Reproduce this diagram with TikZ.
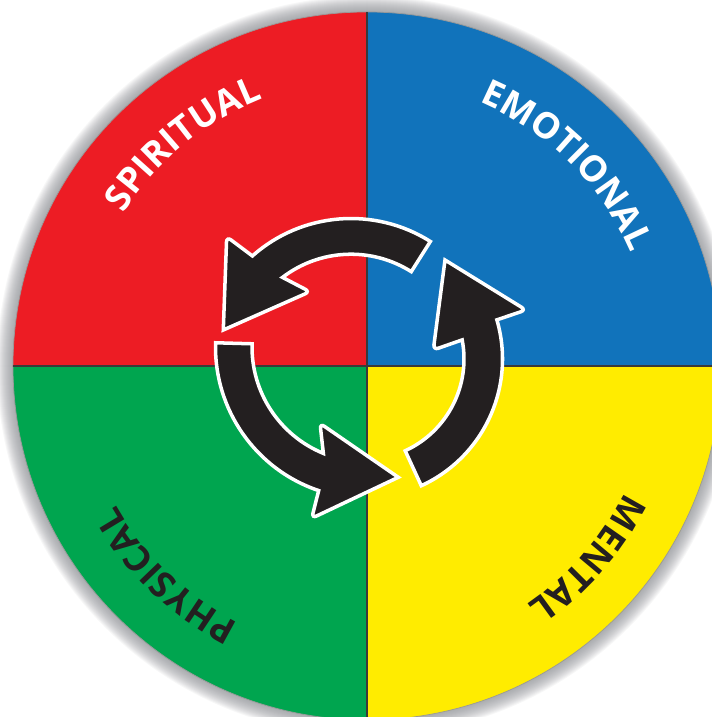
\documentclass[tikz,border=0pt]{standalone}
\usepackage{fontspec}
\setmainfont{Open Sans}[BoldFont={Open Sans Bold}]
\usetikzlibrary{decorations.text}

\definecolor{spiritred}{HTML}{ED1C24}
\definecolor{emotionblue}{HTML}{1173BB}
\definecolor{physicalgreen}{HTML}{00A54F}
\definecolor{mentalyellow}{HTML}{FFEC00}
\definecolor{arrowblack}{HTML}{231F20}
\definecolor{rimgray}{HTML}{8E9096}
\definecolor{dividergray}{HTML}{3A3A3A}

\newcommand{\quadfont}{\fontsize{20.5}{24}\selectfont\bfseries}

\tikzstyle{rim shadow} = [fill=rimgray, opacity=0.07]
\tikzstyle{rim} = [draw=gray!80, line width=0.4pt]
\tikzstyle{divider} = [draw=dividergray, line width=1.1pt]
\tikzstyle{cyclearrow} = [fill=arrowblack, draw=white, line width=2pt, line join=miter]

\begin{document}
\begin{tikzpicture}[x=0.02cm, y=0.02cm]
      \path[use as bounding box, clip] (-367,-351) rectangle (345,366);
      \fill[white] (-367,-351) rectangle (345,366);
      %shadow
      \foreach \g in {16,15,...,1}
      {
        \fill[rim shadow] (0,0) circle[radius=354+\g];
      };
      %quadrants
      \foreach \start/\tint in {0/emotionblue, 90/spiritred, 180/physicalgreen, 270/mentalyellow}
      {
        \fill[\tint] (0,0) -- (\start:354) arc[start angle=\start, end angle=\start+90, radius=354] -- cycle;
      };
      \draw[rim] (0,0) circle[radius=354];
      \draw[divider] (-354,0) -- (354,0);
      \draw[divider] (0,-354) -- (0,354);
      %labels
      \foreach \mid/\word/\ink in {129.6/SPIRITUAL/white, 45.1/EMOTIONAL/white,
        226.3/PHYSICAL/arrowblack, 318.9/MENTAL/arrowblack}
      {
        \path[decorate, decoration={text along path, text/.expanded={|\noexpand\quadfont|\word},
            text align=center, text color=\ink}]
          (\mid+40:287) arc[start angle=\mid+40, end angle=\mid-40, radius=287];
      };
      %arrows
      \foreach \cx/\cy/\tail/\outer/\inner/\onotch/\inotch/\obx/\oby/\tipx/\tipy/\ibx/\iby in {
        -16/-1/57.7/148.5/112.8/131.6/127.4/-124.3/130.3/-127.7/37/-41/75.3,
        0/19/178.4/151.5/115/251.4/247.7/-55.3/-171.3/31.3/-130.3/-47/-76.3,
        -4/7/-65.3/139.5/101/16.3/10.9/163/49/82/99/70.3/9}
      {
        \begin{scope}[shift={(\cx,\cy)}]
          \filldraw[cyclearrow] (\tail:\outer) arc[start angle=\tail, end angle=\onotch, radius=\outer]
            [rounded corners=3pt] -- (\obx,\oby) [sharp corners] -- (\tipx,\tipy)
            [rounded corners=3pt] -- (\ibx,\iby) [sharp corners] -- (\inotch:\inner)
            arc[start angle=\inotch, end angle=\tail, radius=\inner] -- cycle;
        \end{scope}
      };
\end{tikzpicture}
\end{document}
